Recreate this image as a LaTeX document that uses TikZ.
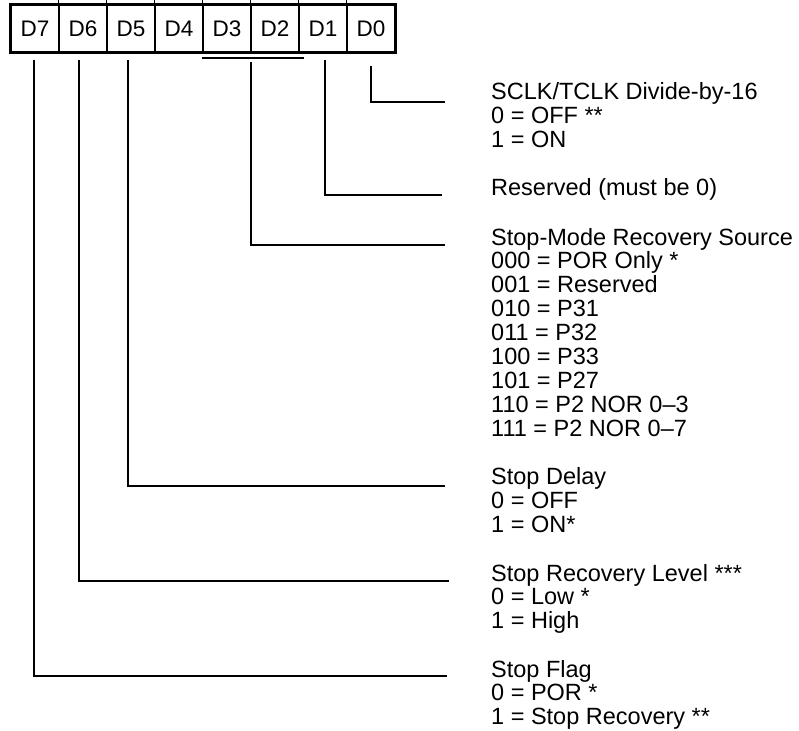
\documentclass[tikz,border=0pt]{standalone}
\usepackage{fontspec}
\setmainfont{Liberation Sans}
\usetikzlibrary{calc}
\begin{document}
\begin{tikzpicture}[x=1pt,y=-1pt,
  cell/.style={draw,line width=1.2pt,minimum width=48pt,minimum height=47pt,inner sep=0pt,
    font=\fontsize{22.5}{24}\selectfont},
  desc/.style={anchor=base west,inner sep=0pt,font=\fontsize{23.5}{24}\selectfont},
  conn/.style={line width=2pt},
  frame/.style={line width=3pt},
  tick/.style={line width=1.2pt}]
\useasboundingbox (0,0) rectangle (799,730);

% register cells
\foreach \n [count=\k from 0] in {7,6,5,4,3,2,1,0}
  \node[cell] (d\n) at (35+48*\k,28.5) {D\n};
\draw[frame] (d7.north west) rectangle (d0.south east);
\foreach \n in {6,5,4,3,2,1,0}
  \draw[tick] (d\n.north west) -- ++(0,-4);

% bracket under D3-D2
\coordinate (brl) at ($(d3.south west)+(0,5)$);
\coordinate (brr) at ($(d2.south east)+(4,5)$);
\draw[conn] (brl) -- (brr);
\coordinate (br) at ($(d3.south east)+(-1,5)$);

% descriptions
\node[desc] (h0) at (491,99.5) {SCLK/TCLK Divide-by-16};
\foreach \t [count=\i] in {0 = OFF **, 1 = ON}
  \node[desc] (h0-\i) at ($(h0.base west)+(0,\i*23.9)$) {\t};

\node[desc] (h1) at (491,195) {Reserved (must be 0)};

\node[desc] (h32) at (491,245) {Stop-Mode Recovery Source};
\foreach \t [count=\i] in {000 = POR Only *, 001 = Reserved, 010 = P31, 011 = P32,
    100 = P33, 101 = P27, 110 = P2 NOR 0–3, 111 = P2 NOR 0–7}
  \node[desc] (h32-\i) at ($(h32.base west)+(0,\i*23.9)$) {\t};

\node[desc] (h5) at (491,484.5) {Stop Delay};
\foreach \t [count=\i] in {0 = OFF, 1 = ON*}
  \node[desc] (h5-\i) at ($(h5.base west)+(0,\i*23.9)$) {\t};

\node[desc] (h6) at (491,581) {Stop Recovery Level ***};
\foreach \t [count=\i] in {0 = Low *, 1 = High}
  \node[desc] (h6-\i) at ($(h6.base west)+(0,\i*23.9)$) {\t};

\node[desc] (h7) at (491,677) {Stop Flag};
\foreach \t [count=\i] in {0 = POR *, 1 = Stop Recovery **}
  \node[desc] (h7-\i) at ($(h7.base west)+(0,\i*23.9)$) {\t};

% connectors
\draw[conn] ($(d0.south)+(0,13)$) |- ($(h0.base west)+(-46,2.5)$);
\draw[conn] ($(d1.south)+(2,7)$) |- ($(h1.base west)+(-49,0)$);
\draw[conn] ($(br)+(0,4)$) |- ($(h32.base west)+(-46,0)$);
\draw[conn] ($(d5.south)+(-3,7)$) |- ($(h5.base west)+(-46,1)$);
\draw[conn] ($(d6.south)+(-4,7)$) |- ($(h6.base west)+(-42,0)$);
\draw[conn] ($(d7.south)+(-1.5,7)$) |- ($(h7.base west)+(-44,-1)$);
\end{tikzpicture}
\end{document}
